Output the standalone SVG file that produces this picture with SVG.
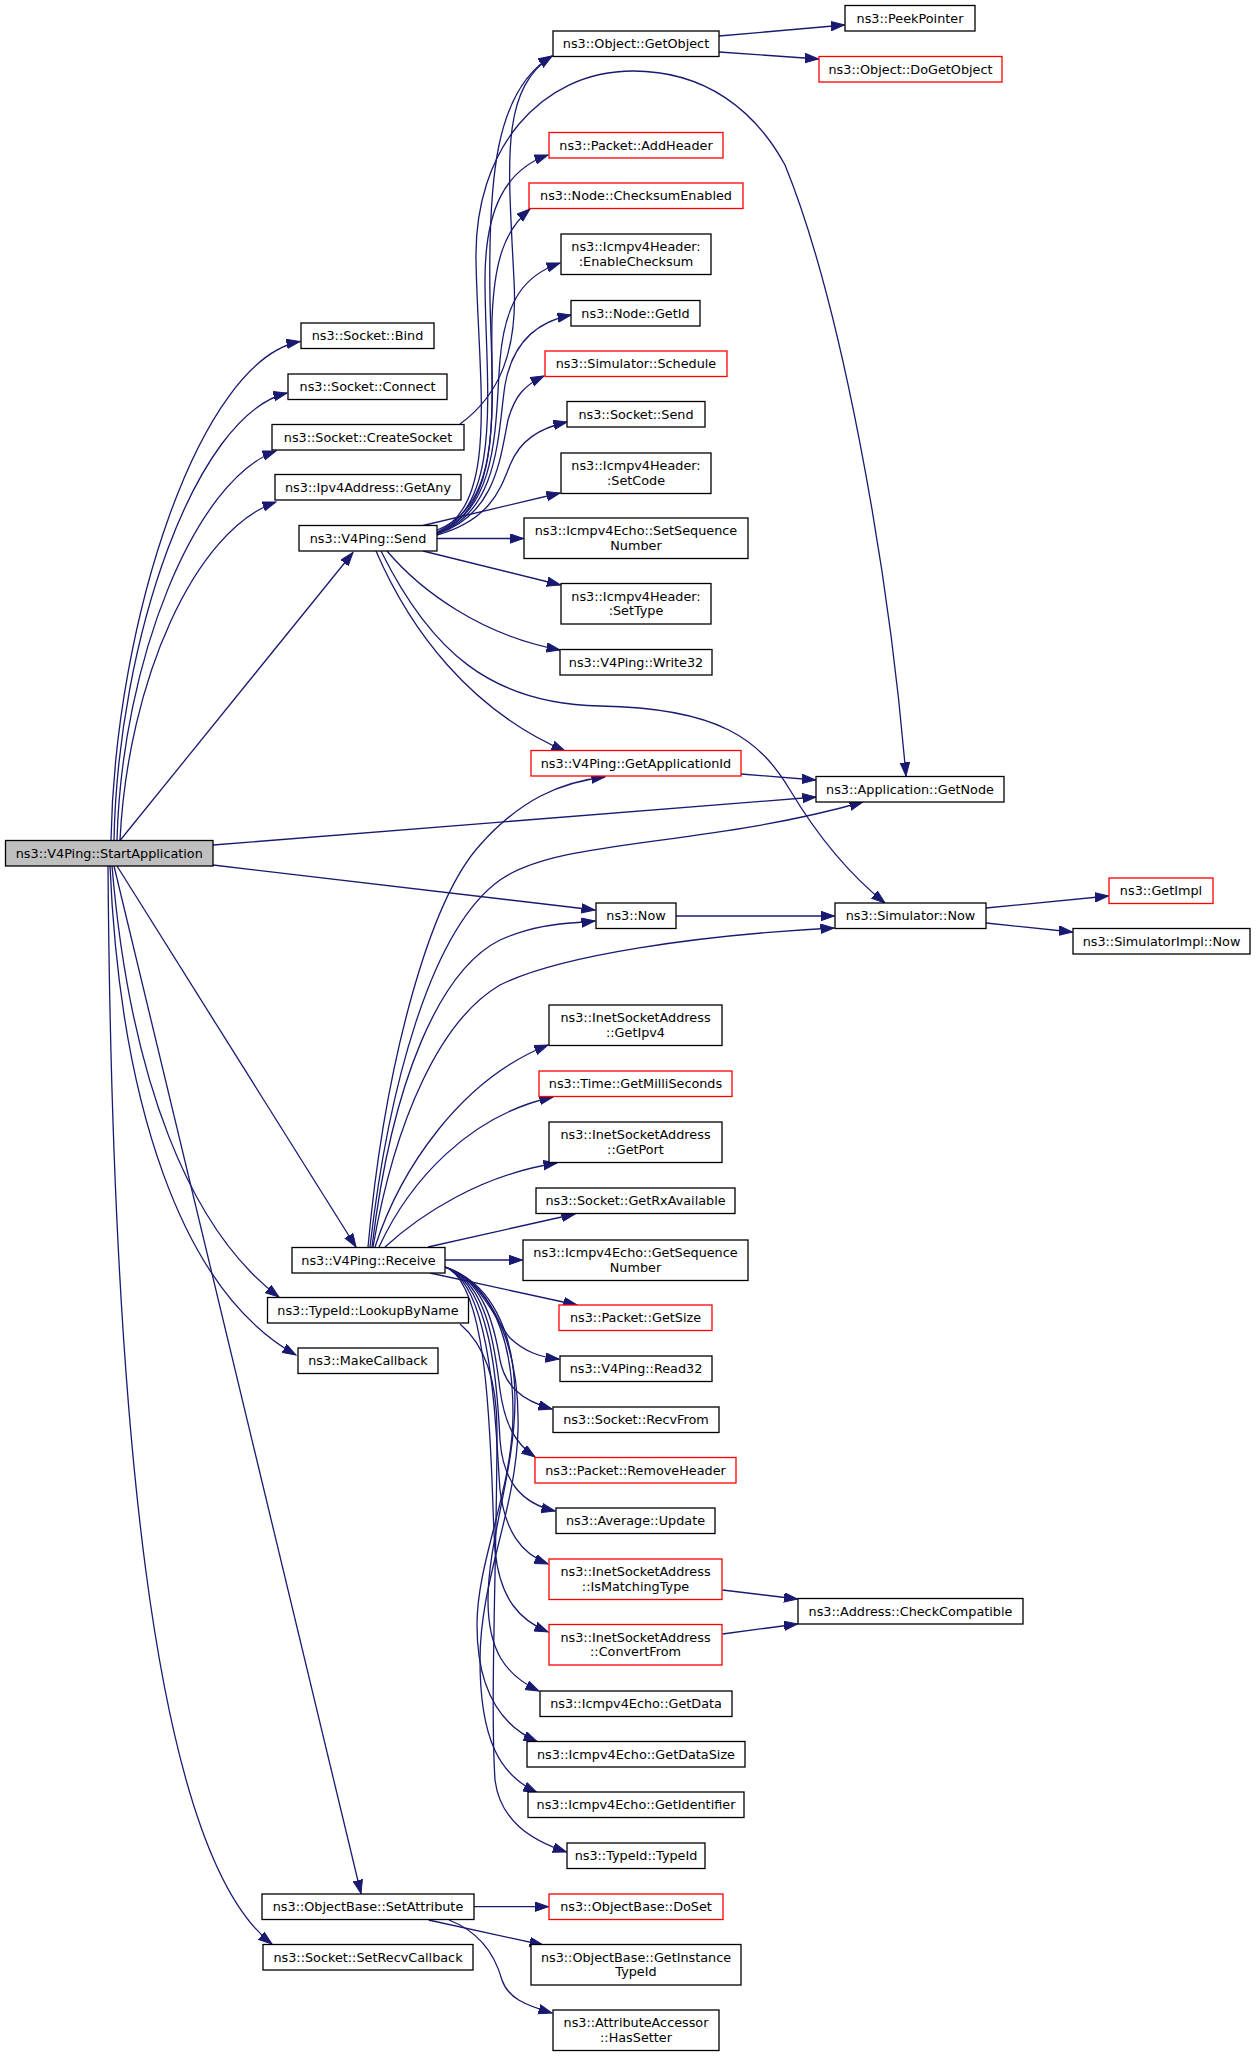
<svg xmlns="http://www.w3.org/2000/svg" width="1256" height="2056" viewBox="0 0 1256 2056">
<style>
.n rect{fill:#ffffff;stroke:#000000;stroke-width:1.3}
.r rect{fill:#ffffff;stroke:#ff0000;stroke-width:1.3}
.g rect{fill:#bfbfbf;stroke:#000000;stroke-width:1.3}
text{font-family:"DejaVu Sans","Liberation Sans",sans-serif;font-size:12.8px;fill:#000000;text-anchor:middle}
.e path{fill:none;stroke:#191970;stroke-width:1.3;marker-end:url(#a)}
</style>
<defs>
<marker id="a" markerWidth="16" markerHeight="12" refX="13.5" refY="5" orient="auto" markerUnits="userSpaceOnUse">
<path d="M0,0.3 L13.5,5 L0,9.7 z" fill="#191970" stroke="#191970" stroke-width="1"/>
</marker>
</defs>
<rect width="1256" height="2056" fill="#ffffff"/>
<g id="edges" class="e">
<path d="M111,840 C115,620 200,360 300,341.5"/>
<path d="M114,840 C118,640 195,415 287,393"/>
<path d="M117,840 C122,660 195,480 276,451"/>
<path d="M120,840 C128,680 195,530 276,502"/>
<path d="M120,840.5 L353,552.5"/>
<path d="M213,845 L816,797"/>
<path d="M213,865 L595,910"/>
<path d="M117,866 L356,1247"/>
<path d="M112,866 C130,1080 190,1230 279,1297"/>
<path d="M110,866 C120,1100 180,1290 296,1355"/>
<path d="M114,866 L361,1893.5"/>
<path d="M108,866 C112,1400 150,1850 272,1944"/>
<path d="M437,530 C505,505 492,400 490,300 C488,180 495,90 552,56"/>
<path d="M460,424 C500,395 518,350 514,280 C508,160 500,90 552,56"/>
<path d="M437,532 C500,505 478,380 476,260 C474,150 540,71 633,71 C705,71 755,110 785,165 C840,300 888,560 906,776"/>
<path d="M437,533 C505,505 485,380 485,280 C485,210 505,170 548,155"/>
<path d="M437,533 C505,508 490,400 492,320 C494,260 505,230 530,209"/>
<path d="M437,533 C500,510 495,420 500,360 C505,300 525,275 560,263"/>
<path d="M437,534 C500,512 498,430 505,385 C512,345 535,322 571,315"/>
<path d="M437,534 C495,515 500,460 508,420 C515,395 525,385 544,376"/>
<path d="M437,535 C490,520 500,490 510,465 C520,440 540,428 567,422"/>
<path d="M423,525.5 L560,493"/>
<path d="M437,538.5 L523.5,538.5"/>
<path d="M423,551 L560.5,585"/>
<path d="M387,551 C420,590 480,635 560,650"/>
<path d="M376,551 C410,630 470,710 565,751"/>
<path d="M381,551 C430,650 490,704 600,706 C720,708 760,740 790,790 C820,840 850,875 885,903"/>
<path d="M368,1247 C385,1060 430,900 480,845 C520,800 560,782 605,777"/>
<path d="M370,1247 C388,1090 430,930 500,880 C560,838 700,848 863,802"/>
<path d="M372,1247 C392,1080 440,970 500,940 C540,922 570,924 595,921"/>
<path d="M373,1247 C395,1120 440,1020 500,985 C560,955 700,935 834,928"/>
<path d="M375,1247 C400,1170 460,1080 548,1045"/>
<path d="M379,1247 C410,1180 470,1115 553,1097"/>
<path d="M385,1247 C420,1215 480,1175 557,1163"/>
<path d="M428,1247 L575,1214"/>
<path d="M445,1260 L522.5,1260"/>
<path d="M430,1273 L577,1305"/>
<path d="M445,1267 C480,1278 495,1320 510,1338 C525,1352 540,1357 559,1359"/>
<path d="M445,1267 C485,1280 495,1330 500,1360 C505,1385 520,1400 552,1409"/>
<path d="M445,1267 C488,1282 495,1350 500,1390 C505,1425 515,1443 535,1457"/>
<path d="M445,1267 C490,1283 497,1380 500,1440 C503,1480 520,1503 555,1511"/>
<path d="M445,1267 C492,1284 495,1420 500,1490 C505,1530 520,1553 548,1564"/>
<path d="M445,1267 C494,1285 490,1480 495,1550 C500,1600 520,1620 548,1632"/>
<path d="M445,1267 C490,1282 515,1330 515,1400 C515,1470 488,1540 488,1600 C488,1650 505,1675 539,1691"/>
<path d="M445,1267 C492,1283 513,1340 513,1413 C513,1490 477,1560 477,1625 C477,1690 500,1725 537,1741.5"/>
<path d="M445,1267 C494,1284 520,1350 518,1430 C516,1510 480,1580 480,1660 C480,1740 500,1775 537,1792.5"/>
<path d="M460,1324 C485,1345 497,1380 497,1430 C497,1550 490,1700 495,1780 C500,1820 530,1840 566.5,1852"/>
<path d="M741,774 L815.5,780"/>
<path d="M676,916 L834.5,916"/>
<path d="M986,908 L1108.5,896"/>
<path d="M986,923 L1072.5,932"/>
<path d="M719,36 L844.5,25"/>
<path d="M719,52 L818.5,59"/>
<path d="M722.5,1590 L797.5,1599"/>
<path d="M722.5,1634 L797.5,1624"/>
<path d="M474,1906.7 L548.5,1906.7"/>
<path d="M428.5,1920 L543,1945"/>
<path d="M449,1920 C480,1932 495,1955 502,1980 C508,1998 525,2005 552,2013"/>
</g>
<g id="n_startapp" class="g"><rect x="5.5" y="840.5" width="207.5" height="25.5"/><text x="109.25" y="857.5">ns3::V4Ping::StartApplication</text></g>
<g id="n_bind" class="n"><rect x="301" y="323" width="133" height="25.5"/><text x="367.5" y="340">ns3::Socket::Bind</text></g>
<g id="n_connect" class="n"><rect x="288" y="374" width="159" height="25.5"/><text x="367.5" y="391">ns3::Socket::Connect</text></g>
<g id="n_createsocket" class="n"><rect x="272" y="424.5" width="192" height="25.5"/><text x="368" y="441.5">ns3::Socket::CreateSocket</text></g>
<g id="n_getany" class="n"><rect x="275" y="474.5" width="186" height="25.5"/><text x="368" y="491.5">ns3::Ipv4Address::GetAny</text></g>
<g id="n_send" class="n"><rect x="299" y="525.5" width="138" height="25.5"/><text x="368" y="542.5">ns3::V4Ping::Send</text></g>
<g id="n_receive" class="n"><rect x="292" y="1247.5" width="153" height="25.5"/><text x="368.5" y="1264.5">ns3::V4Ping::Receive</text></g>
<g id="n_lookupbyname" class="n"><rect x="267.5" y="1297.5" width="201" height="25.5"/><text x="368" y="1314.5">ns3::TypeId::LookupByName</text></g>
<g id="n_makecallback" class="n"><rect x="298" y="1348" width="140" height="25.5"/><text x="368" y="1365">ns3::MakeCallback</text></g>
<g id="n_setattribute" class="n"><rect x="262" y="1894" width="212" height="25.5"/><text x="368" y="1911">ns3::ObjectBase::SetAttribute</text></g>
<g id="n_setrecvcallback" class="n"><rect x="263" y="1944.5" width="210" height="25.5"/><text x="368" y="1961.5">ns3::Socket::SetRecvCallback</text></g>
<g id="n_getobject" class="n"><rect x="553" y="31" width="166" height="25.5"/><text x="636" y="48">ns3::Object::GetObject</text></g>
<g id="n_addheader" class="r"><rect x="549" y="132.5" width="174" height="25.5"/><text x="636" y="149.5">ns3::Packet::AddHeader</text></g>
<g id="n_checksumenabled" class="r"><rect x="529" y="183" width="214" height="25.5"/><text x="636" y="200">ns3::Node::ChecksumEnabled</text></g>
<g id="n_enablechecksum" class="n"><rect x="561" y="234" width="150" height="40.5"/><text x="636" y="251">ns3::Icmpv4Header:</text><text x="636" y="265.5">:EnableChecksum</text></g>
<g id="n_getid" class="n"><rect x="571" y="300.5" width="129" height="25.5"/><text x="635.5" y="317.5">ns3::Node::GetId</text></g>
<g id="n_schedule" class="r"><rect x="545" y="351" width="182" height="25.5"/><text x="636" y="368">ns3::Simulator::Schedule</text></g>
<g id="n_socketsend" class="n"><rect x="567" y="401.5" width="138" height="25.5"/><text x="636" y="418.5">ns3::Socket::Send</text></g>
<g id="n_setcode" class="n"><rect x="561" y="453" width="150" height="40.5"/><text x="636" y="470">ns3::Icmpv4Header:</text><text x="636" y="484.5">:SetCode</text></g>
<g id="n_setseq" class="n"><rect x="524" y="518" width="224" height="40.5"/><text x="636" y="535">ns3::Icmpv4Echo::SetSequence</text><text x="636" y="549.5">Number</text></g>
<g id="n_settype" class="n"><rect x="561" y="583.5" width="150" height="40.5"/><text x="636" y="600.5">ns3::Icmpv4Header:</text><text x="636" y="615">:SetType</text></g>
<g id="n_write32" class="n"><rect x="560" y="649.5" width="152" height="25.5"/><text x="636" y="666.5">ns3::V4Ping::Write32</text></g>
<g id="n_getappid" class="r"><rect x="531" y="750.5" width="210" height="25.5"/><text x="636" y="767.5">ns3::V4Ping::GetApplicationId</text></g>
<g id="n_now" class="n"><rect x="596" y="903" width="80" height="25.5"/><text x="636" y="920">ns3::Now</text></g>
<g id="n_getipv4" class="n"><rect x="549" y="1005" width="173" height="40.5"/><text x="635.5" y="1022">ns3::InetSocketAddress</text><text x="635.5" y="1036.5">::GetIpv4</text></g>
<g id="n_getms" class="r"><rect x="539" y="1071" width="193" height="25.5"/><text x="635.5" y="1088">ns3::Time::GetMilliSeconds</text></g>
<g id="n_getport" class="n"><rect x="549" y="1122" width="173" height="40.5"/><text x="635.5" y="1139">ns3::InetSocketAddress</text><text x="635.5" y="1153.5">::GetPort</text></g>
<g id="n_getrx" class="n"><rect x="536" y="1188" width="199" height="25.5"/><text x="635.5" y="1205">ns3::Socket::GetRxAvailable</text></g>
<g id="n_getseq" class="n"><rect x="523" y="1240" width="225" height="40.5"/><text x="635.5" y="1257">ns3::Icmpv4Echo::GetSequence</text><text x="635.5" y="1271.5">Number</text></g>
<g id="n_getsize" class="r"><rect x="559" y="1305" width="153" height="25.5"/><text x="635.5" y="1322">ns3::Packet::GetSize</text></g>
<g id="n_read32" class="n"><rect x="560" y="1356" width="152" height="25.5"/><text x="636" y="1373">ns3::V4Ping::Read32</text></g>
<g id="n_recvfrom" class="n"><rect x="553" y="1407" width="166" height="25.5"/><text x="636" y="1424">ns3::Socket::RecvFrom</text></g>
<g id="n_removeheader" class="r"><rect x="535" y="1457.5" width="201" height="25.5"/><text x="635.5" y="1474.5">ns3::Packet::RemoveHeader</text></g>
<g id="n_update" class="n"><rect x="556" y="1508" width="159" height="25.5"/><text x="635.5" y="1525">ns3::Average::Update</text></g>
<g id="n_ismatching" class="r"><rect x="549" y="1559" width="173" height="40.5"/><text x="635.5" y="1576">ns3::InetSocketAddress</text><text x="635.5" y="1590.5">::IsMatchingType</text></g>
<g id="n_convertfrom" class="r"><rect x="549" y="1624.5" width="173" height="40.5"/><text x="635.5" y="1641.5">ns3::InetSocketAddress</text><text x="635.5" y="1656">::ConvertFrom</text></g>
<g id="n_getdata" class="n"><rect x="540" y="1691" width="192" height="25.5"/><text x="636" y="1708">ns3::Icmpv4Echo::GetData</text></g>
<g id="n_getdatasize" class="n"><rect x="527" y="1741.5" width="218" height="25.5"/><text x="636" y="1758.5">ns3::Icmpv4Echo::GetDataSize</text></g>
<g id="n_getidentifier" class="n"><rect x="528" y="1792" width="216" height="25.5"/><text x="636" y="1809">ns3::Icmpv4Echo::GetIdentifier</text></g>
<g id="n_typeid" class="n"><rect x="567" y="1843" width="138" height="25.5"/><text x="636" y="1860">ns3::TypeId::TypeId</text></g>
<g id="n_doset" class="r"><rect x="549" y="1894" width="174" height="25.5"/><text x="636" y="1911">ns3::ObjectBase::DoSet</text></g>
<g id="n_getinstancetypeid" class="n"><rect x="531" y="1944.5" width="210" height="40.5"/><text x="636" y="1961.5">ns3::ObjectBase::GetInstance</text><text x="636" y="1976">TypeId</text></g>
<g id="n_hassetter" class="n"><rect x="553" y="2010" width="166" height="40.5"/><text x="636" y="2027">ns3::AttributeAccessor</text><text x="636" y="2041.5">::HasSetter</text></g>
<g id="n_peekpointer" class="n"><rect x="845" y="5.5" width="130" height="25.5"/><text x="910" y="22.5">ns3::PeekPointer</text></g>
<g id="n_dogetobject" class="r"><rect x="819" y="56.5" width="183" height="25.5"/><text x="910.5" y="73.5">ns3::Object::DoGetObject</text></g>
<g id="n_getnode" class="n"><rect x="816" y="776.5" width="188" height="25.5"/><text x="910" y="793.5">ns3::Application::GetNode</text></g>
<g id="n_simnow" class="n"><rect x="835" y="903" width="151" height="25.5"/><text x="910.5" y="920">ns3::Simulator::Now</text></g>
<g id="n_checkcompatible" class="n"><rect x="798" y="1598.5" width="225" height="25.5"/><text x="910.5" y="1615.5">ns3::Address::CheckCompatible</text></g>
<g id="n_getimpl" class="r"><rect x="1109" y="878" width="104" height="25.5"/><text x="1161" y="895">ns3::GetImpl</text></g>
<g id="n_simimplnow" class="n"><rect x="1073" y="928.5" width="177" height="25.5"/><text x="1161.5" y="945.5">ns3::SimulatorImpl::Now</text></g>
</svg>
